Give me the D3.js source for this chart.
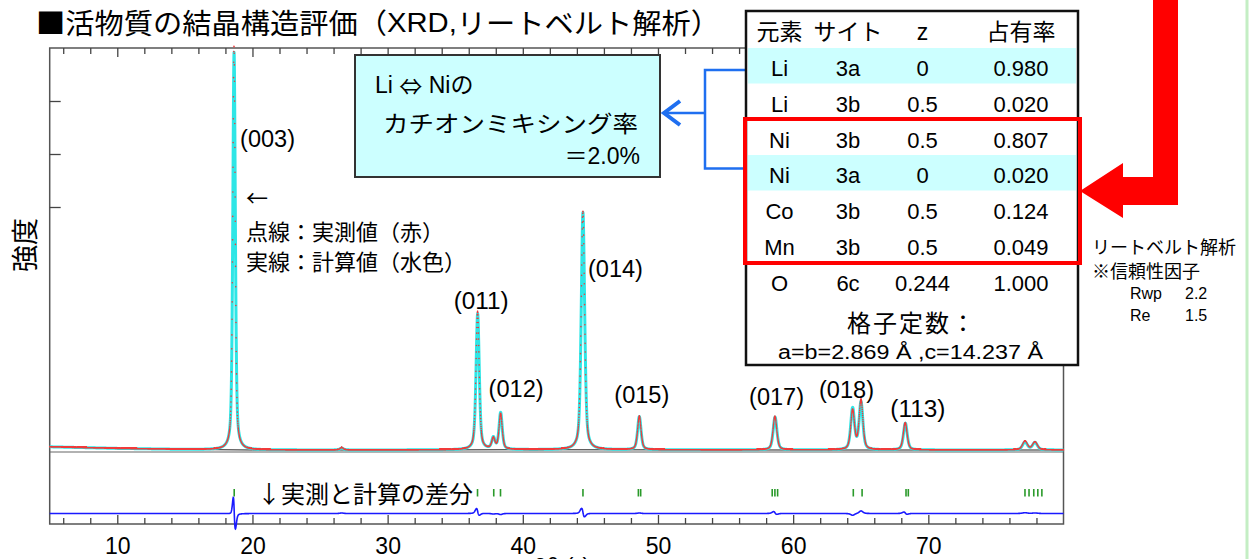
<!DOCTYPE html>
<html><head><meta charset="utf-8">
<script src="https://cdn.jsdelivr.net/npm/d3@7"></script>
<style>body{margin:0;background:#fff}svg{display:block}</style>
</head><body>
<svg id="c" width="1250" height="559"></svg>
<script>
// ---------------- data ----------------
const xMajorTicks = [10, 20, 30, 40, 50, 60, 70];
const xMinorTicks = [6, 8, 12, 14, 16, 18, 22, 24, 26, 28, 32, 34, 36, 38, 42, 44, 46, 48, 52, 54, 56, 58, 62, 64, 66, 68, 72, 74, 76, 78];
const yTickValues = [10000, 12000, 14000];

const bgTheta  = [5, 10, 15, 20, 30, 40, 50, 60, 70, 80];
const bgCounts = [950, 890, 850, 830, 830, 840, 835, 830, 830, 830];

// calculated profile (peak position 2θ, height above background, FWHM)
const calcPos    = [18.64, 26.6, 36.66, 37.82, 38.36, 44.45, 48.62, 58.66, 64.40, 65.02, 68.30, 77.15, 77.89];
const calcHeight = [15000, 70, 5130, 420, 1380, 8950, 1250, 1240, 1550, 1780, 1010, 300, 280];
const calcFwhm   = [0.22, 0.30, 0.28, 0.28, 0.28, 0.30, 0.30, 0.33, 0.33, 0.33, 0.33, 0.42, 0.42];
// observed profile
const obsPos     = [18.634, 26.6, 36.655, 37.82, 38.36, 44.446, 48.62, 58.65, 64.40, 65.02, 68.29, 77.15, 77.89];
const obsHeight  = [15250, 90, 5220, 400, 1340, 9000, 1270, 1270, 1480, 1880, 1030, 330, 300];
const obsFwhm    = [0.215, 0.30, 0.28, 0.28, 0.28, 0.30, 0.30, 0.33, 0.33, 0.33, 0.33, 0.42, 0.42];

// Bragg reflection positions (green ticks)
const braggPos = [18.65, 36.65, 37.85, 38.35, 44.45, 48.55, 48.72, 58.45, 58.65, 58.85, 64.45, 65.1, 68.35, 68.52, 77.15, 77.45, 77.8, 78.1, 78.4];

// hkl labels
const hklLabels = ["(003)", "(011)", "(012)", "(014)", "(015)", "(017)", "(018)", "(113)"];
const hklTheta  = [18.64, 36.66, 38.36, 44.45, 48.62, 58.66, 65.02, 68.30];

// table
const tblHeader = ["元素", "サイト", "z", "占有率"];
const tblElem = ["Li", "Li", "Ni", "Ni", "Co", "Mn", "O"];
const tblSite = ["3a", "3b", "3b", "3a", "3b", "3b", "6c"];
const tblZ    = ["0", "0.5", "0.5", "0", "0.5", "0.5", "0.244"];
const tblOcc  = ["0.980", "0.020", "0.807", "0.020", "0.124", "0.049", "1.000"];
const tblShaded = [true, false, false, true, false, false, false];

const rietveldNotes = ["リートベルト解析", "※信頼性因子"];
const factorNames = ["Rwp", "Re"];
const factorValues = ["2.2", "1.5"];

// ---------------- drawing ----------------
const svg = d3.select("#c");
const LAT = "'Liberation Sans','Noto Sans CJK JP',sans-serif";
const CJK = "'Noto Sans CJK JP','Liberation Sans',sans-serif";

const x = d3.scaleLinear().domain([5, 80]).range([49.7, 1063.5]);
const y = d3.scaleLinear().domain([0, 16000]).range([472, 48]);
const yd = d3.scaleLinear().domain([0, 16000]).range([513.5, 89.5]);
const bg = d3.scaleLinear().domain(bgTheta).range(bgCounts);

function pv(t, p, h, f) {
  const hw = f / 2, u = (t - p) / hw;
  return h * (0.5 / (1 + u * u) + 0.5 * Math.exp(-Math.LN2 * u * u));
}
function profile(t, P, Hh, F) {
  let s = bg(t);
  for (let i = 0; i < P.length; i++) s += pv(t, P[i], Hh[i], F[i]);
  return s;
}
const thetas = d3.range(5, 80.0001, 0.005);
const calc = thetas.map(t => [t, profile(t, calcPos, calcHeight, calcFwhm)]);
const obs  = thetas.filter((t, i) => i % 2 === 0).map(t => [t, profile(t, obsPos, obsHeight, obsFwhm)]);
const diff = obs.map(d => [d[0], d[1] - profile(d[0], calcPos, calcHeight, calcFwhm)]);

// title
const title = svg.append("text").attr("x", 36).attr("y", 22)
  .attr("dominant-baseline", "central").attr("font-size", 28)
  .attr("font-family", LAT).attr("textLength", 684).attr("lengthAdjust", "spacingAndGlyphs");
title.append("tspan").attr("font-family", CJK).text("■活物質の結晶構造評価（");
title.append("tspan").text("XRD,");
title.append("tspan").attr("font-family", CJK).text("リートベルト解析）");

// right green edge
svg.append("line").attr("x1", 1247).attr("x2", 1247).attr("y1", 0).attr("y2", 559)
  .attr("stroke", "#c4eec4").attr("stroke-width", 3);

// frame
const [x0, x1] = x.range();
svg.append("rect").attr("x", x0).attr("y", 48).attr("width", x1 - x0).attr("height", 524 - 48)
  .attr("fill", "none").attr("stroke", "#555").attr("stroke-width", 1.5);

function styleAxis(g) { g.select(".domain").remove(); g.selectAll(".tick line").attr("stroke", "#444").attr("stroke-width", 1.3); }
svg.append("g").attr("transform", "translate(0,524)")
  .call(d3.axisBottom(x).tickValues(xMinorTicks).tickSize(-6).tickFormat("")).call(styleAxis);
svg.append("g").attr("transform", "translate(0,524)")
  .call(d3.axisBottom(x).tickValues(xMajorTicks).tickSize(-9).tickPadding(14).tickFormat(d3.format("d")))
  .call(styleAxis)
  .call(g => g.selectAll(".tick text").attr("font-size", 23).attr("font-family", LAT).attr("fill", "#000").attr("dy", "0.71em"));
svg.append("g").attr("transform", "translate(0,48)")
  .call(d3.axisTop(x).tickValues(xMinorTicks).tickSize(-6).tickFormat("")).call(styleAxis);
svg.append("g").attr("transform", "translate(0,48)")
  .call(d3.axisTop(x).tickValues(xMajorTicks).tickSize(-9).tickFormat("")).call(styleAxis);
svg.append("g").attr("transform", `translate(${x0},0)`)
  .call(d3.axisLeft(y).tickValues(yTickValues).tickSize(-11).tickFormat("")).call(styleAxis);

// axis titles
svg.append("text").attr("transform", "translate(23,245) rotate(-90)")
  .attr("text-anchor", "middle").attr("dominant-baseline", "central")
  .attr("font-size", 27).attr("font-family", CJK).text("強度");
svg.append("text").attr("x", 562).attr("y", 575).attr("text-anchor", "middle")
  .attr("font-size", 23).attr("font-family", LAT).text("2θ (°)");

// panel separator
svg.append("line").attr("x1", x0).attr("x2", x1).attr("y1", 452).attr("y2", 452)
  .attr("stroke", "#666").attr("stroke-width", 1.2);

// background
svg.append("path")
  .attr("d", d3.line().x(d => x(d)).y(d => y(bg(d)))(bgTheta))
  .attr("fill", "none").attr("stroke", "#222").attr("stroke-width", 1);

// calculated (cyan line)
svg.append("path")
  .attr("d", d3.line().x(d => x(d[0])).y(d => y(d[1]))(calc))
  .attr("fill", "none").attr("stroke", "#2ee6e6").attr("stroke-width", 3).attr("stroke-linejoin", "round");

// observed (red dots)
svg.append("path")
  .attr("d", obs.map(d => `M${x(d[0]).toFixed(2)},${y(d[1]).toFixed(2)}h0`).join(""))
  .attr("fill", "none").attr("stroke", "#f03a3a").attr("stroke-width", 1.6).attr("stroke-linecap", "round");

// difference
svg.append("path")
  .attr("d", d3.line().x(d => x(d[0])).y(d => yd(d[1]))(diff))
  .attr("fill", "none").attr("stroke", "#1a1aff").attr("stroke-width", 1.6);

// bragg ticks
svg.append("g").selectAll("line").data(braggPos).join("line")
  .attr("x1", d => x(d)).attr("x2", d => x(d)).attr("y1", 489).attr("y2", 496.5)
  .attr("stroke", "#2a9a2a").attr("stroke-width", 1.6);

// hkl labels
const hklDX = [6, -24, -12, 5, -25, -26, -42, -15];
const hklY  = [139, 301, 389, 269, 395, 397, 390, 409];
svg.append("g").selectAll("text").data(hklLabels).join("text")
  .attr("x", (d, i) => x(hklTheta[i]) + hklDX[i]).attr("y", (d, i) => hklY[i])
  .attr("dominant-baseline", "central").attr("font-size", 23).attr("font-family", LAT)
  .attr("textLength", 55).attr("lengthAdjust", "spacingAndGlyphs").text(d => d);

// legend notes
const notes = ["←", "点線：実測値（赤）", "実線：計算値（水色）"];
const notesY = [196, 230, 260];
svg.append("g").selectAll("text").data(notes).join("text")
  .attr("x", 246).attr("y", (d, i) => notesY[i]).attr("dominant-baseline", "central")
  .attr("font-size", 22).attr("font-family", CJK).text(d => d);
svg.append("text").attr("x", 257).attr("y", 492).attr("dominant-baseline", "central")
  .attr("font-size", 24).attr("font-family", CJK).text("↓実測と計算の差分");

// cation mixing box
svg.append("rect").attr("x", 355).attr("y", 55).attr("width", 305).attr("height", 122)
  .attr("fill", "#ccffff").attr("stroke", "#333").attr("stroke-width", 2);
const t1 = svg.append("text").attr("x", 375).attr("y", 85).attr("dominant-baseline", "central")
  .attr("font-size", 23).attr("font-family", LAT);
t1.append("tspan").text("Li ");
t1.append("tspan").attr("font-family", CJK).attr("font-size", 23).text("⇔");
t1.append("tspan").text(" Niの");
svg.append("text").attr("x", 383).attr("y", 122).attr("dominant-baseline", "central")
  .attr("font-size", 23).attr("font-family", CJK).attr("textLength", 255).attr("lengthAdjust", "spacingAndGlyphs")
  .text("カチオンミキシング率");
svg.append("text").attr("x", 640).attr("y", 156).attr("dominant-baseline", "central").attr("text-anchor", "end")
  .attr("font-size", 23).attr("font-family", LAT).text("＝2.0%");

// blue bracket and arrow
const blue = "#1f6ff0";
svg.append("path").attr("d", "M747,70H705V168.5H747M705,113H664")
  .attr("fill", "none").attr("stroke", blue).attr("stroke-width", 2.5);
svg.append("path").attr("d", "M680,101L664,113L680,125")
  .attr("fill", "none").attr("stroke", blue).attr("stroke-width", 4).attr("stroke-linejoin", "miter");

// table
const colX = [779.5, 848, 922.5, 1021];
const rowY = [68, 104, 140, 175, 211.5, 247, 283];
svg.append("rect").attr("x", 746).attr("y", 11).attr("width", 332).attr("height", 354)
  .attr("fill", "#fff").attr("stroke", "#111").attr("stroke-width", 2.5);
svg.append("g").selectAll("rect").data(rowY.filter((d, i) => tblShaded[i])).join("rect")
  .attr("x", 748).attr("width", 328).attr("y", d => d - 20).attr("height", 35.5).attr("fill", "#ccffff");
svg.append("g").selectAll("text").data(tblHeader).join("text")
  .attr("x", (d, i) => colX[i]).attr("y", 32).attr("text-anchor", "middle").attr("dominant-baseline", "central")
  .attr("font-size", 23).attr("font-family", LAT).text(d => d);
const cols = [tblElem, tblSite, tblZ, tblOcc];
cols.forEach((col, c) => {
  svg.append("g").selectAll("text").data(col).join("text")
    .attr("x", colX[c]).attr("y", (d, i) => rowY[i]).attr("text-anchor", "middle").attr("dominant-baseline", "central")
    .attr("font-size", 22).attr("font-family", LAT).text(d => d);
});
svg.append("text").attr("x", 912).attr("y", 321).attr("text-anchor", "middle").attr("dominant-baseline", "central")
  .attr("font-size", 24).attr("font-family", CJK).attr("letter-spacing", 2).text("格子定数：");
svg.append("text").attr("x", 778).attr("y", 352).attr("dominant-baseline", "central")
  .attr("font-size", 20).attr("font-family", LAT).attr("textLength", 265).attr("lengthAdjust", "spacingAndGlyphs")
  .text("a=b=2.869 Å ,c=14.237 Å");
// red highlight box
svg.append("rect").attr("x", 745).attr("y", 119).attr("width", 335).attr("height", 144)
  .attr("fill", "none").attr("stroke", "#ff0000").attr("stroke-width", 4);

// big red arrow
svg.append("path").attr("d", "M1153,0H1178V205H1123V218L1080,191L1123,163V177H1153Z")
  .attr("fill", "#ff0000");

// right notes
svg.append("g").selectAll("text").data(rietveldNotes).join("text")
  .attr("x", 1092).attr("y", (d, i) => [246, 270][i]).attr("dominant-baseline", "central")
  .attr("font-size", 18).attr("font-family", CJK).text(d => d);
svg.append("g").selectAll("text").data(factorNames).join("text")
  .attr("x", 1130).attr("y", (d, i) => [293, 315][i]).attr("dominant-baseline", "central")
  .attr("font-size", 16).attr("font-family", LAT).text(d => d);
svg.append("g").selectAll("text").data(factorValues).join("text")
  .attr("x", 1185).attr("y", (d, i) => [293, 315][i]).attr("dominant-baseline", "central")
  .attr("font-size", 16).attr("font-family", LAT).text(d => d);
</script>
</body></html>
